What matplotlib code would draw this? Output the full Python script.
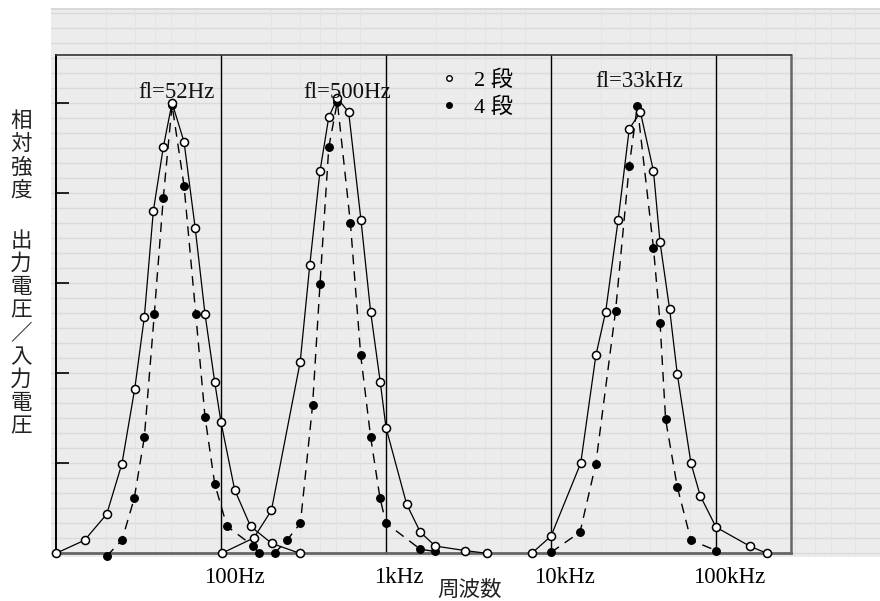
import matplotlib
matplotlib.use('Agg')
import matplotlib.pyplot as plt
from matplotlib.lines import Line2D
from matplotlib.ticker import NullLocator, FixedLocator
from matplotlib.font_manager import FontProperties
from matplotlib.transforms import ScaledTranslation

# ---------------- data ----------------
# peak fl=52Hz
freq_52_2 = [10, 14.9, 20.3, 25.1, 30.0, 34.3, 38.9, 44.7, 50.5, 59.7, 69.8, 80.0, 91.6, 100, 121, 151, 203, 300]
resp_52_2 = [0, 0.029, 0.087, 0.199, 0.365, 0.524, 0.760, 0.901, 1.0, 0.913, 0.721, 0.531, 0.380, 0.291, 0.141, 0.060, 0.022, 0]
freq_52_4 = [20.3, 25.1, 29.8, 34.3, 39.4, 44.7, 50.5, 59.7, 70.3, 80.0, 91.6, 108.7, 157, 171]
resp_52_4 = [-0.006, 0.029, 0.122, 0.257, 0.530, 0.789, 0.995, 0.816, 0.531, 0.303, 0.154, 0.060, 0.016, 0]

# peak fl=500Hz
freq_500_2 = [101, 158, 202, 302, 345, 398, 450, 507, 594, 705, 807, 923, 1000, 1334, 1614, 1990, 3027, 4074]
resp_500_2 = [0, 0.034, 0.095, 0.425, 0.639, 0.848, 0.968, 1.01, 0.979, 0.740, 0.536, 0.380, 0.279, 0.109, 0.047, 0.016, 0.006, 0]
freq_500_4 = [211, 251, 303, 359, 398, 450, 507, 608, 703, 807, 920, 1000, 1614, 1990]
resp_500_4 = [0, 0.029, 0.067, 0.329, 0.597, 0.901, 1.002, 0.734, 0.439, 0.258, 0.122, 0.067, 0.009, 0.004]

# peak fl=33kHz
freq_33k_2 = [7640, 10000, 15140, 18700, 21440, 25530, 29800, 34830, 41800, 45800, 52300, 58200, 70500, 80200, 100000, 160000, 203000]
resp_33k_2 = [0, 0.038, 0.200, 0.439, 0.536, 0.740, 0.942, 0.979, 0.848, 0.690, 0.543, 0.399, 0.200, 0.128, 0.058, 0.016, 0]
freq_33k_4 = [10000, 15000, 18700, 24600, 29800, 33350, 41800, 45800, 49500, 58200, 70500, 100400]
resp_33k_4 = [0.002, 0.047, 0.199, 0.537, 0.860, 0.993, 0.677, 0.512, 0.297, 0.148, 0.029, 0.006]

decades = [100, 1000, 10000, 100000]
decade_labels = ['100Hz', '1kHz', '10kHz', '100kHz']
peak_labels = ['fl=52Hz', 'fl=500Hz', 'fl=33kHz']
peak_label_x = [53.9, 580, 34120]
peak_label_y = [1.0115, 1.0115, 1.034]
ytick_values = [0.2, 0.4, 0.6, 0.8, 1.0]
series_names = ['2 段', '4 段']
ylabel_top = '相対強度'
ylabel_bottom = '出力電圧／入力電圧'
xlabel = '周波数'

# ---------------- figure ----------------
W, H = 880, 601
fig = plt.figure(figsize=(8.8, 6.01), dpi=100)
fig.patch.set_facecolor('white')


def fx(px):
    return px / W


def fy(py):
    return 1 - py / H


SERIF = ['Liberation Serif', 'DejaVu Serif']
CJK = ['Noto Sans CJK JP', 'DejaVu Sans']
MIX = ['Liberation Serif', 'Noto Sans CJK JP', 'DejaVu Sans']

# graph-paper background
bg = fig.add_axes([fx(51), fy(557), fx(880) - fx(51), fy(8) - fy(557)], zorder=0)
bg.set_xscale('log')
bg.set_xlim(10 ** (1 + (51 - 56) / 165), 10 ** (1 + (880 - 56) / 165))
bg.set_ylim((553.3 - 557) / 450.6, (553.3 - 8) / 450.6)
bg.set_facecolor('#ececec')
for k in range(0, 37):
    bg.axhline(k / 30, color='#dadada', lw=1.0, zorder=0)
for d in range(0, 6):
    for m in (2, 3, 4, 5, 7):
        bg.axvline(m * 10 ** d, color='#e3e3e3', lw=0.6, zorder=0)
bg.axhline((553.3 - 9) / 450.6, color='#d4d4d4', lw=1.2)
bg.xaxis.set_major_locator(NullLocator())
bg.xaxis.set_minor_locator(NullLocator())
bg.yaxis.set_major_locator(NullLocator())
for s in bg.spines.values():
    s.set_visible(False)

# main axes
ax = fig.add_axes([fx(56), fy(553.3), fx(791) - fx(56), fy(55) - fy(553.3)], zorder=2)
ax.patch.set_visible(False)
ax.set_xscale('log')
ax.set_xlim(10, 10 ** (1 + 735 / 165))
ax.set_ylim(0, (553.3 - 55) / 450.6)

for d in decades:
    ax.axvline(d, color='black', lw=1.0, zorder=1)

ax.spines['left'].set_color('black')
ax.spines['left'].set_linewidth(1.4)
ax.spines['top'].set_color('#333333')
ax.spines['top'].set_linewidth(1.2)
ax.spines['right'].set_color('#666666')
ax.spines['right'].set_linewidth(1.8)
ax.spines['bottom'].set_color('#666666')
ax.spines['bottom'].set_linewidth(2.0)

ax.yaxis.set_major_locator(FixedLocator(ytick_values))
ax.tick_params(axis='y', direction='in', length=9.5, width=1.2, color='black', labelleft=False)
ax.xaxis.set_major_locator(FixedLocator(decades))
ax.xaxis.set_minor_locator(NullLocator())
ax.set_xticklabels(decade_labels, fontfamily=SERIF, fontsize=16.5)
ax.tick_params(axis='x', length=0, pad=10.0)
offset = ScaledTranslation(13 / 100, 0, fig.dpi_scale_trans)
for lab in ax.get_xticklabels():
    lab.set_transform(lab.get_transform() + offset)

open_kw = dict(marker='o', ms=5.8, mfc='white', mec='black', mew=1.1, color='black',
               lw=0.9, ls='-', clip_on=False, zorder=4)
fill_kw = dict(marker='o', ms=5.4, mfc='black', mec='black', color='black',
               lw=1.0, ls=(0, (7, 5)), clip_on=False, zorder=3)

for f, r in [(freq_52_2, resp_52_2), (freq_500_2, resp_500_2), (freq_33k_2, resp_33k_2)]:
    ax.plot(f, r, **open_kw)
for f, r in [(freq_52_4, resp_52_4), (freq_500_4, resp_500_4), (freq_33k_4, resp_33k_4)]:
    ax.plot(f, r, **fill_kw)

for lab, x, y in zip(peak_labels, peak_label_x, peak_label_y):
    ax.text(x, y, lab, ha='center', va='baseline', fontfamily=SERIF, fontsize=16.5, color='#111111', zorder=5)

# legend
handles = [Line2D([], [], ls='none', marker='o', ms=4.0, mfc='white', mec='black', mew=1.0),
           Line2D([], [], ls='none', marker='o', ms=4.0, mfc='black', mec='black')]
leg = fig.legend(handles, series_names, loc='upper left', bbox_to_anchor=(fx(438), fy(70)),
                 frameon=False, prop=FontProperties(family=MIX, size=16), borderaxespad=0,
                 borderpad=0, handlelength=1.0, handletextpad=0.6, labelspacing=0.3)

# axis labels
pitch = 23.2
for i, ch in enumerate(ylabel_top):
    fig.text(fx(21), fy(121 + i * pitch), ch, ha='center', va='center', fontfamily=CJK,
             fontsize=15.5, color='#222222')
for i, ch in enumerate(ylabel_bottom):
    fig.text(fx(21), fy(241 + i * pitch), ch, ha='center', va='center', fontfamily=CJK,
             fontsize=15.5, color='#222222')
fig.text(fx(470), fy(590), xlabel, ha='center', va='center', fontfamily=CJK, fontsize=15.5,
         color='#222222')

fig.savefig('out.png', dpi=100, facecolor='white')
